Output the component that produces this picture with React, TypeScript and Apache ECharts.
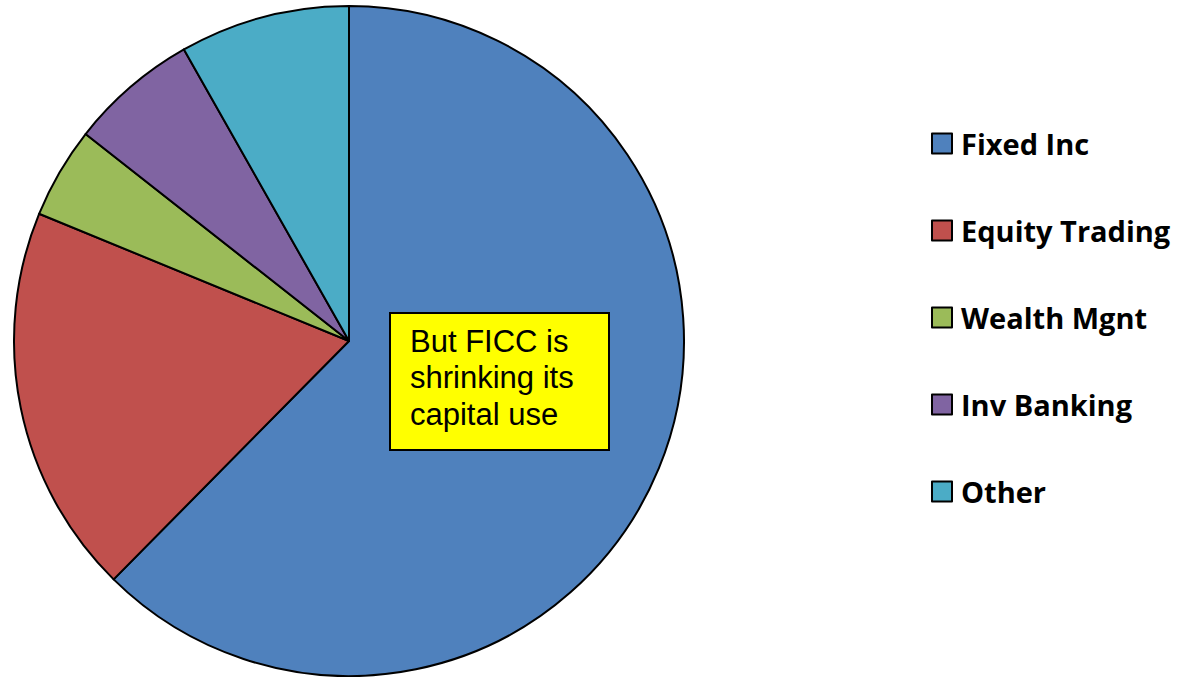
import React, { useEffect, useRef } from "react";
import * as echarts from "echarts";

const categories = ["Fixed Inc", "Equity Trading", "Wealth Mgnt", "Inv Banking", "Other"];
const values = [62.4, 18.8, 4.4, 6.2, 8.2];
const colors = ["#4F81BD", "#C0504D", "#9BBB59", "#8064A2", "#4BACC6"];
const noteLines = ["But FICC is", "shrinking its", "capital use"];

export default function App() {
  const ref = useRef<HTMLDivElement>(null);
  useEffect(() => {
    if (!ref.current) return;
    const chart = echarts.init(ref.current, null, { renderer: "svg" });
    chart.setOption({
      animation: false,
      backgroundColor: "#ffffff",
      legend: {
        orient: "vertical",
        left: 926,
        top: 124,
        itemWidth: 20,
        itemHeight: 20,
        itemGap: 58,
        icon: "rect",
        selectedMode: false,
        itemStyle: { borderColor: "#000", borderWidth: 2 },
        textStyle: {
          color: "#000",
          fontFamily: "'Open Sans'",
          fontWeight: "bold",
          fontSize: 29,
          lineHeight: 29,
          padding: [0, 0, 0, 4],
        },
        data: categories,
      },
      series: [
        {
          type: "pie",
          center: [349, 341],
          radius: 335,
          startAngle: 90,
          clockwise: true,
          label: { show: false },
          labelLine: { show: false },
          emphasis: { disabled: true },
          silent: true,
          itemStyle: { borderColor: "#000", borderWidth: 2 },
          data: categories.map((name, i) => ({
            name,
            value: values[i],
            itemStyle: { color: colors[i] },
          })),
        },
      ],
      graphic: [
        {
          type: "group",
          left: 389,
          top: 312,
          z: 100,
          children: [
            {
              type: "rect",
              z: 100,
              shape: { x: 0, y: 0, width: 219, height: 137 },
              style: { fill: "#FFFF00", stroke: "#000", lineWidth: 2 },
            },
            {
              type: "text",
              z: 101,
              x: 20,
              y: 10,
              style: {
                text: noteLines.join("\n"),
                fill: "#000",
                fontFamily: "'Liberation Sans', Arial, sans-serif",
                fontSize: 31,
                lineHeight: 36.5,
              },
            },
          ],
        },
      ],
    });
    return () => chart.dispose();
  }, []);
  return (
    <div
      ref={ref}
      style={{ position: "absolute", left: 0, top: 0, width: 1196, height: 677 }}
    />
  );
}
